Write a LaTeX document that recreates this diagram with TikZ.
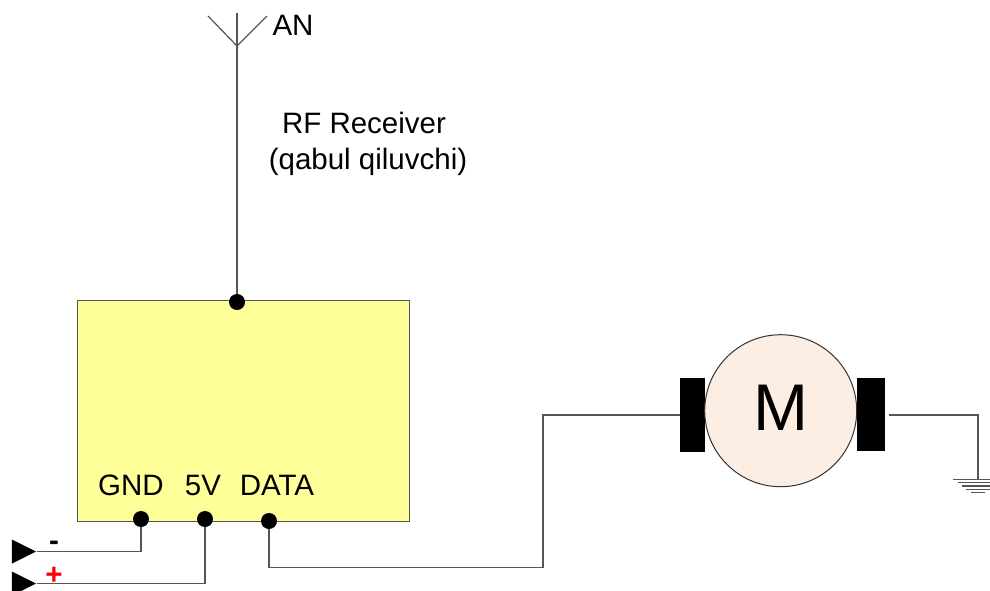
\documentclass[tikz,border=0pt]{standalone}
\usepackage{fontspec}
\setmainfont{Liberation Sans}
\usetikzlibrary{shapes.geometric}
\definecolor{modulefill}{HTML}{FFFF99}
\definecolor{motorfill}{HTML}{FDEEE3}
\definecolor{wirecol}{HTML}{555555}
\tikzstyle{line}=[line width=1.2pt,draw=wirecol]
\tikzstyle{module}=[draw=wirecol,line width=1pt,fill=modulefill,minimum width=332pt,minimum height=221pt,inner sep=0pt]
\tikzstyle{pin}=[circle,fill=black,minimum size=16pt,inner sep=0pt]
\tikzstyle{terminal}=[isosceles triangle,isosceles triangle stretches,fill=black,minimum width=24pt,minimum height=24pt,inner sep=0pt,anchor=apex]
\tikzstyle{brush}=[fill=black,inner sep=0pt]
\tikzstyle{motor}=[circle,draw=black!80,line width=1pt,fill=motorfill,minimum size=152pt,inner sep=0pt]
\tikzstyle{label}=[inner sep=0pt,anchor=base,font=\fontsize{29.5}{29.5}\selectfont]
\begin{document}
\begin{tikzpicture}[x=1pt,y=-1pt]

    \useasboundingbox (0,0) rectangle (990,590);

    \node[module] (receiver) at (243.7,410.5) {};
    \node[pin] (antpin) at (237,302) {};
    \node[pin] (gndpin) at (141,519) {};
    \node[pin] (vccpin) at (205,519) {};
    \node[pin] (datapin) at (269,521) {};
    \node[terminal] (minusterm) at (36.5,551.5) {};
    \node[terminal] (plusterm) at (36.5,583.5) {};
    \node[brush,minimum width=25pt,minimum height=73.5pt] (leftbrush) at (692.5,415.2) {};
    \node[brush,minimum width=28pt,minimum height=72.5pt] (rightbrush) at (871,414.7) {};
    \node[motor] (motor) at (780.7,410.7) {};

    \coordinate (antbase) at (237,46);
    \coordinate (anttop) at (237,13);
    \coordinate (antleft) at (208,16);
    \coordinate (antright) at (267,16);
    \coordinate (datacorner) at (543,567.5);
    \coordinate (brushin) at (680,415);
    \coordinate (brushout) at (889,415);
    \coordinate (gndtop) at (978,479.3);

    \draw[line] (antpin) -- (anttop) ;
    \draw[line] (antleft) -- (antbase) -- (antright) ;
    \draw[line] (gndpin) |- (minusterm.apex) ;
    \draw[line] (vccpin) |- (plusterm.apex) ;
    \draw[line] (datapin) |- (datacorner) |- (brushin) ;
    \draw[line] (brushout) -| (gndtop) ;

    \draw[line] (953,479.3) -- (1003,479.3) ;
    \draw[line] (958,482.6) -- (998,482.6) ;
    \draw[line] (962,485.9) -- (994,485.9) ;
    \draw[line] (966,489.2) -- (990,489.2) ;
    \draw[line] (971,492.5) -- (985,492.5) ;

    \node[label] (anlabel) at (293,35) {AN};
    \node[label] (rflabel) at (364,133) {RF Receiver};
    \node[label] (qabullabel) at (368,169) {(qabul qiluvchi)};
    \node[label] (gndlabel) at (131,495.7) {GND};
    \node[label] (vcclabel) at (203,495.7) {5V};
    \node[label] (datalabel) at (277,495.7) {DATA};
    \node[label,font=\bfseries\fontsize{29.5}{29.5}\selectfont] (minuslabel) at (54,550) {-};
    \node[label,text=red,font=\bfseries\fontsize{29.5}{29.5}\selectfont] (pluslabel) at (54,584) {+};
    \node[inner sep=0pt,anchor=base,font=\fontsize{66}{66}\selectfont] (mlabel) at (780.7,430.7) {M};

\end{tikzpicture}
\end{document}
